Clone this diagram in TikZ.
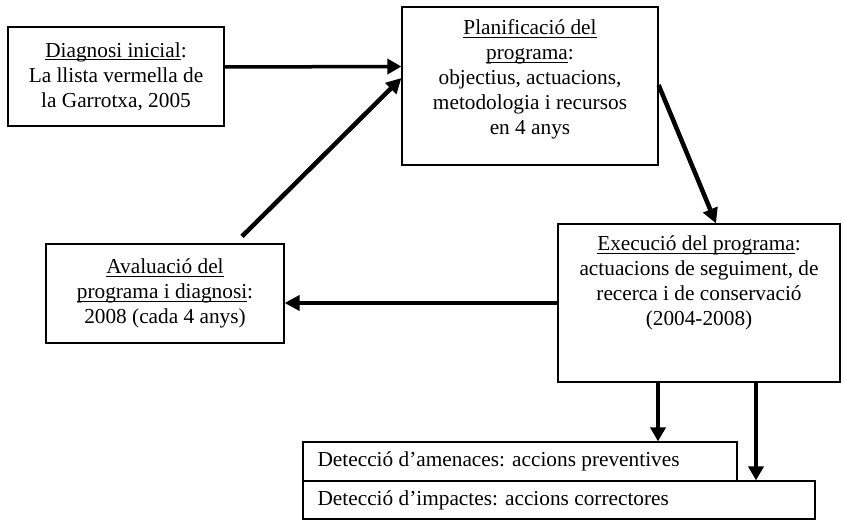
\documentclass[tikz,border=0pt]{standalone}
\usepackage{fontspec}
\setmainfont{Liberation Serif}
\usetikzlibrary{arrows.meta}
\newcommand\myul[1]{{\setbox0\hbox{#1}\rlap{\rule[-3pt]{\wd0}{0.9pt}}\box0}}
\begin{document}
\begin{tikzpicture}[x=1pt,y=-1pt,
  box/.style={draw, line width=1.2pt, inner sep=0pt},
  txt/.style={align=center, font=\fontsize{21.3}{25}\selectfont, inner sep=0pt},
  ltxt/.style={anchor=west, font=\fontsize{21.3}{25}\selectfont, inner sep=0pt},
  thick arrow/.style={line width=4.5pt, -{Triangle[length=15pt,width=15pt]}},
  mid arrow/.style={line width=3.5pt, -{Triangle[length=14pt,width=15pt]}}]
\useasboundingbox (0,0) rectangle (843,521);
% boxes
\node[box, minimum width=216pt, minimum height=99pt] (b1) at (116,76.5) {};
\node[txt] (t1) at (b1.center) {\myul{Diagnosi inicial}:\\La llista vermella de\\la Garrotxa, 2005};
\node[box, minimum width=256pt, minimum height=158pt] (b2) at (530,86) {};
\node[txt, anchor=north] (t2) at ([yshift=-13pt]b2.north) {\myul{Planificació del}\\\myul{programa}:\\objectius, actuacions,\\metodologia i recursos\\en 4 anys};
\node[box, minimum width=238pt, minimum height=99pt] (b3) at (165,293.5) {};
\node[txt] (t3) at (b3.center) {\myul{Avaluació del}\\\myul{programa i diagnosi}:\\2008 (cada 4 anys)};
\node[box, minimum width=282pt, minimum height=158pt] (b4) at (699,303) {};
\node[txt, anchor=north] (t4) at ([yshift=-12pt]b4.north) {\myul{Execució del programa}:\\actuacions de seguiment, de\\recerca i de conservació\\(2004-2008)};
\node[box, minimum width=434pt, minimum height=39pt] (b5) at (520,461.5) {};
\node[ltxt] (t5) at ([xshift=15pt]b5.west) {Detecció d’amenaces: accions preventives};
\node[box, minimum width=512pt, minimum height=38pt] (b6) at (559,500) {};
\node[ltxt] (t6) at ([xshift=15pt]b6.west) {Detecció d’impactes: accions correctores};
% connectors
\draw[mid arrow] ([yshift=9.5pt]b1.east) -- ([yshift=19.5pt]b2.west);
\draw[thick arrow] ([xshift=77pt,yshift=7pt]b3.north) -- ([yshift=8pt]b2.west);
\draw[thick arrow] ([yshift=1pt]b2.east) -- ([xshift=17pt]b4.north);
\draw[thick arrow] (b4.west) -- (b3.east |- b4.west);
\coordinate (d1) at ([xshift=-41pt]b4.south);
\coordinate (d2) at ([xshift=57pt]b4.south);
\draw[mid arrow] (d1) -- (d1 |- b5.north);
\draw[mid arrow] (d2) -- (d2 |- b6.north);
\end{tikzpicture}
\end{document}
